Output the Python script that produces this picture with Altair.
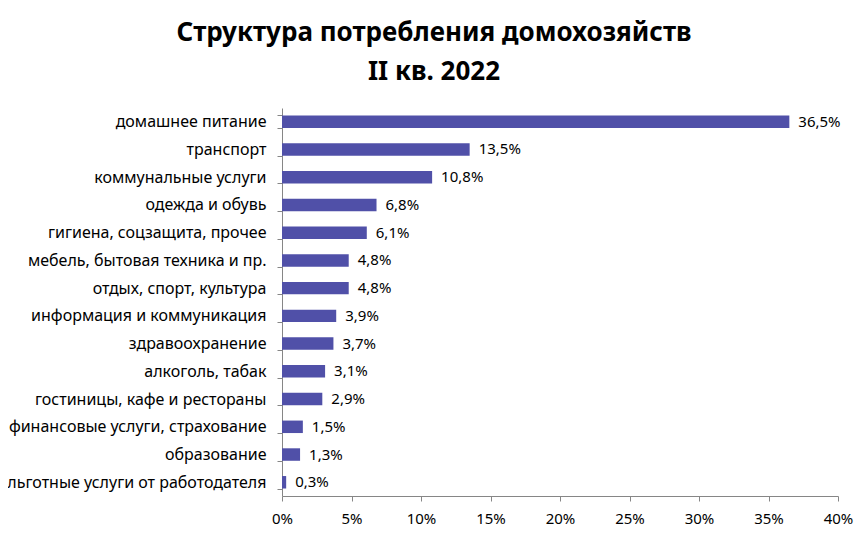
import pandas as pd
import altair as alt

# data
categories = [
    "домашнее питание",
    "транспорт",
    "коммунальные услуги",
    "одежда и обувь",
    "гигиена, соцзащита, прочее",
    "мебель, бытовая техника и пр.",
    "отдых, спорт, культура",
    "информация и коммуникация",
    "здравоохранение",
    "алкоголь, табак\u00a0",
    "гостиницы, кафе и рестораны",
    "финансовые услуги, страхование",
    "образование",
    "льготные услуги от работодателя",
]
shares = [36.5, 13.5, 10.8, 6.8, 6.1, 4.8, 4.8, 3.9, 3.7, 3.1, 2.9, 1.5, 1.3, 0.3]
x_ticks = [0, 5, 10, 15, 20, 25, 30, 35, 40]

df = pd.DataFrame({"category": categories, "share": shares})

FONT = "Noto Sans"
BAR = "#5050A8"

base = alt.Chart(df).encode(
    y=alt.Y("category:N", sort=categories, title=None,
            scale=alt.Scale(paddingInner=0.55, paddingOuter=0.27),
            axis=alt.Axis(labelFont=FONT, labelFontSize=16, labelColor="black",
                          labelPadding=11, labelLimit=400, tickBand="extent", tickSize=5,
                          domainColor="#868686", tickColor="#868686"))
)

bars = base.mark_bar(color=BAR).encode(
    x=alt.X("share:Q", title=None,
            scale=alt.Scale(domain=[0, 40], nice=False),
            axis=alt.Axis(values=x_ticks, labelExpr="datum.value + '%'",
                          labelFont=FONT, labelFontSize=15, labelColor="black",
                          labelPadding=10, labelFlush=False, tickSize=5, grid=False,
                          domainColor="#868686", tickColor="#868686"))
)

labels = base.mark_text(align="left", baseline="middle", dx=9,
                        font=FONT, fontSize=15, color="black").transform_calculate(
    label="replace(format(datum.share, '.1f'), '.', ',') + '%'"
).encode(
    x="share:Q",
    text="label:N",
)

chart = (bars + labels).properties(
    width=556,
    height=388,
    padding={"left": 274, "top": 100, "right": 22, "bottom": 34},
    autosize=alt.AutoSizeParams(type="none"),
    title=alt.TitleParams(
        ["Структура потребления домохозяйств", "II кв. 2022"],
        font=FONT, fontSize=26, fontWeight="bold", color="black",
        anchor="middle", frame="group", dx=-126, offset=15, lineHeight=39,
    ),
).configure_view(stroke=None)

chart.save("out.html", embed_options={"renderer": "svg", "actions": False})
